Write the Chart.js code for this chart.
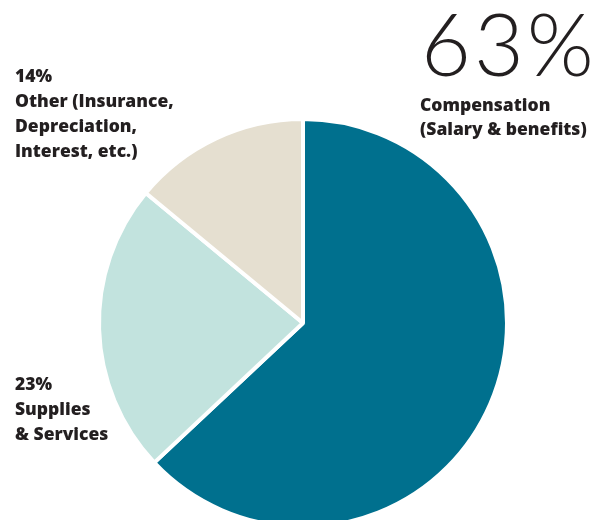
<!DOCTYPE html>
<html>
<head>
<meta charset="utf-8">
<script src="https://cdn.jsdelivr.net/npm/chart.js@4"></script>
<style>
  html, body { margin: 0; padding: 0; background: #fff; }
  #wrap { position: relative; width: 608px; height: 520px; overflow: hidden; }
  #wrap canvas { position: absolute; left: 0; top: 0; }
  .lbl { position: absolute; color: #231f20; font-family: "Open Sans", sans-serif; font-weight: 800; font-size: 17.5px; line-height: 25px; white-space: nowrap; }
  .big { position: absolute; color: #231f20; font-family: "Lato", sans-serif; font-weight: 300; font-size: 86px; letter-spacing: 3px; line-height: 86px; white-space: nowrap; }
</style>
</head>
<body>
<div id="wrap">
  <canvas id="budgetChart" width="608" height="520"></canvas>
  <div class="big" id="bigPct" style="left:421px; top:0px;"></div>
  <div class="lbl" id="lblComp" style="left:420px; top:93px; line-height:23.5px;"></div>
  <div class="lbl" id="lblOther" style="left:15px; top:63px;"></div>
  <div class="lbl" id="lblSupplies" style="left:15px; top:371px;"></div>
</div>
<script>
// expense breakdown, share of total budget (%)
const categories = ['Compensation (Salary & benefits)', 'Supplies & Services', 'Other (Insurance, Depreciation, Interest, etc.)'];
const shares = [63, 23, 14];
const sliceColors = ['#00708e', '#c2e3de', '#e5dfd0'];

// label text, line by line
const compLines = ['Compensation', '(Salary & benefits)'];
const suppliesLines = ['Supplies', '& Services'];
const otherLines = ['Other (Insurance,', 'Depreciation,', 'Interest, etc.)'];

document.getElementById('bigPct').textContent = shares[0] + '%';
document.getElementById('lblComp').innerHTML = compLines.join('<br>');
document.getElementById('lblSupplies').innerHTML = [shares[1] + '%'].concat(suppliesLines).join('<br>');
document.getElementById('lblOther').innerHTML = [shares[2] + '%'].concat(otherLines).join('<br>');

const ctx = document.getElementById('budgetChart').getContext('2d');
new Chart(ctx, {
    type: 'pie',
    data: {
        labels: categories,
        datasets: [{
            data: shares,
            backgroundColor: sliceColors,
            borderColor: '#ffffff',
            borderWidth: 4,
            radius: 204,
            clip: false
        }]
    },
    options: {
        responsive: false,
        animation: false,
        layout: { padding: { top: 126, bottom: 0, left: 0, right: 2 } },
        plugins: {
            legend: { display: false },
            tooltip: { enabled: false }
        }
    }
});
</script>
</body>
</html>
